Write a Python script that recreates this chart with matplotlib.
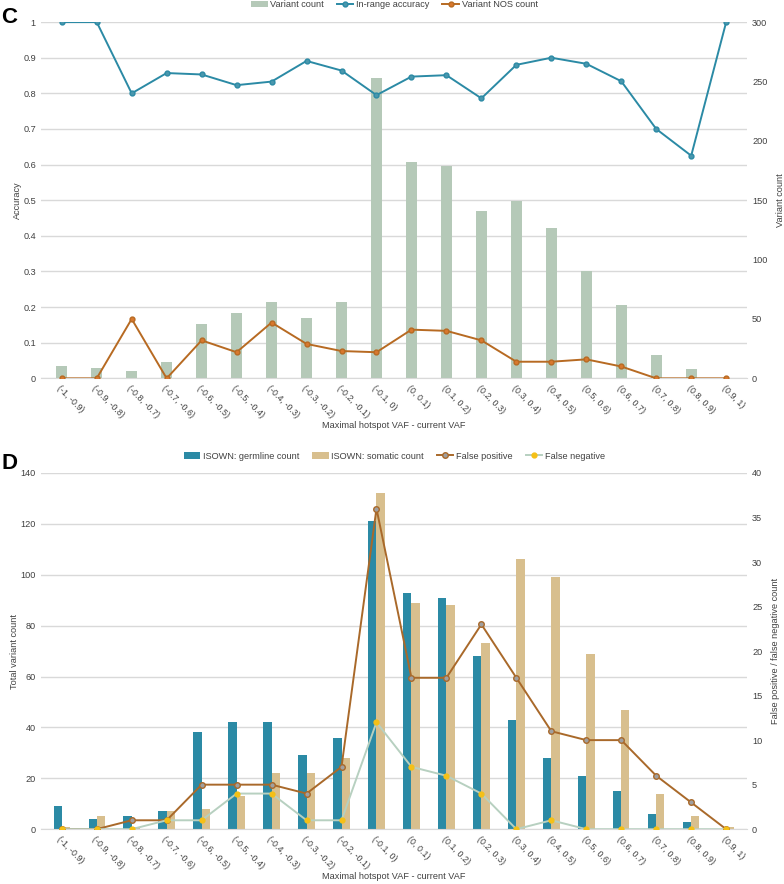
import numpy as np
import matplotlib
matplotlib.use("Agg")
import matplotlib.pyplot as plt

plt.rcParams["font.family"] = ["Liberation Sans", "DejaVu Sans"]
plt.rcParams["font.size"] = 6.6

bins = ["(-1, -0.9)", "(-0.9, -0.8)", "(-0.8, -0.7)", "(-0.7, -0.6)", "(-0.6, -0.5)",
        "(-0.5, -0.4)", "(-0.4, -0.3)", "(-0.3, -0.2)", "(-0.2, -0.1)", "(-0.1, 0)",
        "(0, 0.1)", "(0.1, 0.2)", "(0.2, 0.3)", "(0.3, 0.4)", "(0.4, 0.5)",
        "(0.5, 0.6)", "(0.6, 0.7)", "(0.7, 0.8)", "(0.8, 0.9)", "(0.9, 1)"]

# panel C
variant_count = [10, 9, 6, 14, 46, 55, 64, 51, 64, 253, 182, 179, 141, 149, 127, 90, 62, 20, 8, 0]
accuracy = [1.0, 1.0, 0.80, 0.857, 0.853, 0.823, 0.833, 0.891, 0.864, 0.795,
            0.847, 0.851, 0.786, 0.880, 0.900, 0.883, 0.834, 0.700, 0.625, 1.0]
nos_count = [0, 0, 50, 0, 32, 22, 47, 29, 23, 22, 41, 40, 32, 14, 14, 16, 10, 0, 0, 0]

# panel D
germline = [9, 4, 5, 7, 38, 42, 42, 29, 36, 121, 93, 91, 68, 43, 28, 21, 15, 6, 3, 0]
somatic = [1, 5, 1, 7, 8, 13, 22, 22, 28, 132, 89, 88, 73, 106, 99, 69, 47, 14, 5, 1]
false_pos = [0, 0, 1, 1, 5, 5, 5, 4, 7, 36, 17, 17, 23, 17, 11, 10, 10, 6, 3, 0]
false_neg = [0, 0, 0, 1, 1, 4, 4, 1, 1, 12, 7, 6, 4, 0, 1, 0, 0, 0, 0, 0]

TEAL = "#2b8aa5"
SAGE = "#b5c9b8"
ORANGE = "#b76a22"
TAN = "#d8bf8e"
BROWN = "#a9692a"
FNLINE = "#b7d0c0"
YELLOW = "#f5c016"
GRID = "#d9d9d9"
TXT = "#404040"

x = np.arange(len(bins))


def style(ax, ax2):
    for a in (ax, ax2):
        for s in a.spines.values():
            s.set_visible(False)
        a.tick_params(length=0, colors=TXT, labelsize=6.6)
    ax.spines["bottom"].set_visible(True)
    ax.spines["bottom"].set_color(GRID)
    ax.yaxis.grid(True, color=GRID, linewidth=1)
    ax.set_axisbelow(True)
    ax.set_xticks(x)
    ax.set_xticklabels(bins, rotation=-45, ha="left", va="top", rotation_mode="anchor",
                       fontsize=6.4)
    ax.tick_params(axis="x", pad=4)
    ax.set_xlim(-0.6, len(bins) - 0.4)
    ax.set_xlabel("Maximal hotspot VAF - current VAF", color=TXT, labelpad=1)


fig = plt.figure(figsize=(7.84, 8.84), dpi=100)

# ---- C ----
axc = fig.add_axes([0.052, 0.572, 0.901, 0.403])
axc2 = axc.twinx()
b1 = axc2.bar(x, variant_count, width=0.31, color=SAGE, label="Variant count", zorder=1)
axc2.set_ylim(0, 300)
axc2.set_yticks(range(0, 301, 50))
l2, = axc2.plot(x, nos_count, color=ORANGE, lw=1.4, marker="o", ms=3.5,
                markerfacecolor="#d9782e", markeredgecolor=ORANGE, label="Variant NOS count")
# accuracy shares the plot with the counts: 1.0 on the left = 300 on the right
l1, = axc2.plot(x, np.array(accuracy) * 300, color=TEAL, lw=1.4, marker="o", ms=3.5,
                markerfacecolor="#4a97ad", markeredgecolor=TEAL, label="In-range accuracy")
axc.set_ylim(0, 1)
axc.set_yticks(np.arange(0, 1.01, 0.1))
axc.set_yticklabels(["0", "0.1", "0.2", "0.3", "0.4", "0.5", "0.6", "0.7", "0.8", "0.9", "1"])
style(axc, axc2)
axc.set_ylabel("Accuracy", color=TXT, labelpad=1)
axc2.set_ylabel("Variant count", color=TXT, labelpad=6)
fig.legend([b1, l1, l2], ["Variant count", "In-range accuracy", "Variant NOS count"],
           loc="upper center", bbox_to_anchor=(0.503, 1.009), ncol=3, frameon=False,
           handlelength=1.8, handletextpad=0.3, columnspacing=1.4, labelcolor=TXT)
fig.text(0.002, 0.992, "C", fontsize=16, fontweight="bold", va="top")

# ---- D ----
axd = fig.add_axes([0.052, 0.062, 0.901, 0.403])
axd2 = axd.twinx()
w = 0.235
b2 = axd.bar(x - w / 2, germline, width=w, color=TEAL, label="ISOWN: germline count")
b3 = axd.bar(x + w / 2, somatic, width=w, color=TAN, label="ISOWN: somatic count")
axd.set_ylim(0, 140)
axd.set_yticks(range(0, 141, 20))
l3, = axd2.plot(x, false_pos, color=BROWN, lw=1.4, marker="o", ms=4,
                markerfacecolor="#a0a0a0", markeredgecolor=BROWN, label="False positive")
l4, = axd2.plot(x, false_neg, color=FNLINE, lw=1.4, marker="o", ms=3.5,
                markerfacecolor=YELLOW, markeredgecolor=YELLOW, label="False negative")
axd2.set_ylim(0, 40)
axd2.set_yticks(range(0, 41, 5))
style(axd, axd2)
axd.set_ylabel("Total variant count", color=TXT, labelpad=1)
axd2.set_ylabel("False positive / false negative count", color=TXT, labelpad=6)
fig.legend([b2, b3, l3, l4],
           ["ISOWN: germline count", "ISOWN: somatic count", "False positive", "False negative"],
           loc="upper center", bbox_to_anchor=(0.503, 0.4985), ncol=4, frameon=False,
           handlelength=1.8, handletextpad=0.3, columnspacing=1.4, labelcolor=TXT)
fig.text(0.002, 0.488, "D", fontsize=16, fontweight="bold", va="top")

fig.savefig("out.png", dpi=100)
